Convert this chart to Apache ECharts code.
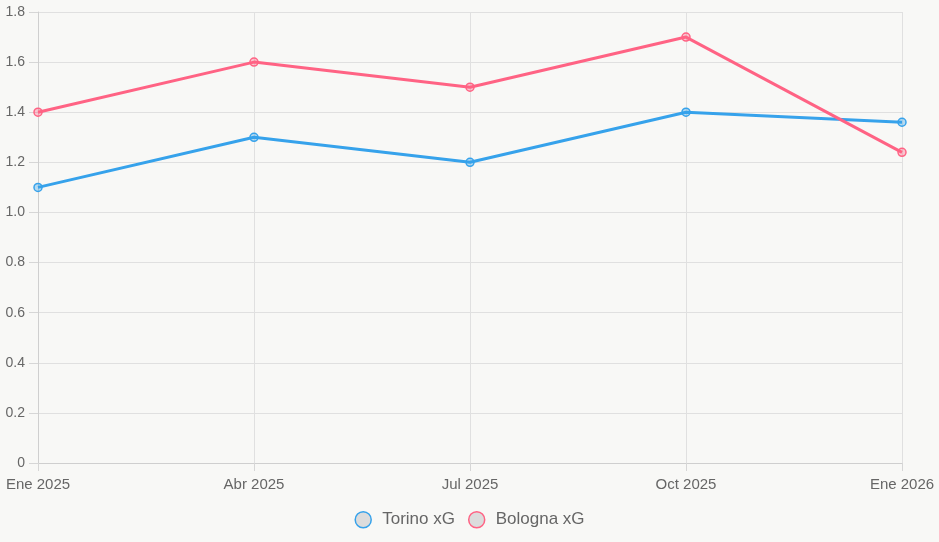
<!DOCTYPE html>
<html>
<head>
<meta charset="utf-8">
<script src="https://cdn.jsdelivr.net/npm/echarts@6/dist/echarts.min.js"></script>
<style>
  html, body { margin: 0; padding: 0; background: #f8f8f6; }
  #chart { width: 939px; height: 542px; }
</style>
</head>
<body>
<div id="chart"></div>
<script>
const categories = ["Ene 2025", "Abr 2025", "Jul 2025", "Oct 2025", "Ene 2026"];
const torinoXG = [1.1, 1.3, 1.2, 1.4, 1.36];
const bolognaXG = [1.4, 1.6, 1.5, 1.7, 1.24];

const blue = "#36a2eb";
const pink = "#ff6384";
const gridColor = "#e0e0e0";
const labelColor = "#666";

const chart = echarts.init(document.getElementById("chart"));

function lineSeries(name, data, color, fill) {
  return {
    name: name,
    type: "line",
    data: data,
    symbol: "circle",
    symbolSize: 8,
    lineStyle: { color: color, width: 3 },
    itemStyle: { color: fill, borderColor: color, borderWidth: 1.5 },
    emphasis: { disabled: true },
  };
}

chart.setOption({
  backgroundColor: "#f8f8f6",
  textStyle: { fontFamily: "Liberation Sans, Arial, sans-serif" },
  animation: false,
  grid: { left: 38, right: 37, top: 12, bottom: 79 },
  legend: {
    top: 506,
    left: "center",
    icon: "circle",
    itemWidth: 16,
    itemHeight: 16,
    itemGap: 13,
    textStyle: { fontSize: 17, color: labelColor, padding: [0, 0, 0, 6] },
    data: [
      { name: "Torino xG", itemStyle: { color: "#dcdcdc", borderColor: blue, borderWidth: 1.5 } },
      { name: "Bologna xG", itemStyle: { color: "#dcdcdc", borderColor: pink, borderWidth: 1.5 } },
    ],
  },
  xAxis: {
    type: "category",
    data: categories,
    boundaryGap: false,
    axisLine: { lineStyle: { color: "#cfcfcf" } },
    axisTick: { show: true, length: 8, lineStyle: { color: "#d6d6d6" } },
    axisLabel: { color: labelColor, fontSize: 15, margin: 14 },
    splitLine: { show: true, lineStyle: { color: gridColor } },
  },
  yAxis: {
    type: "value",
    min: 0,
    max: 1.8,
    interval: 0.2,
    axisLine: { show: true, lineStyle: { color: "#cfcfcf" } },
    axisTick: { show: true, length: 9, lineStyle: { color: "#d6d6d6" } },
    axisLabel: {
      color: labelColor,
      fontSize: 14,
      margin: 13,
      formatter: (v) => (v === 0 ? "0" : v.toFixed(1)),
    },
    splitLine: { show: true, lineStyle: { color: gridColor } },
  },
  series: [
    lineSeries("Torino xG", torinoXG, blue, "rgba(54,162,235,0.35)"),
    lineSeries("Bologna xG", bolognaXG, pink, "rgba(255,99,132,0.35)"),
  ],
});
</script>
</body>
</html>
